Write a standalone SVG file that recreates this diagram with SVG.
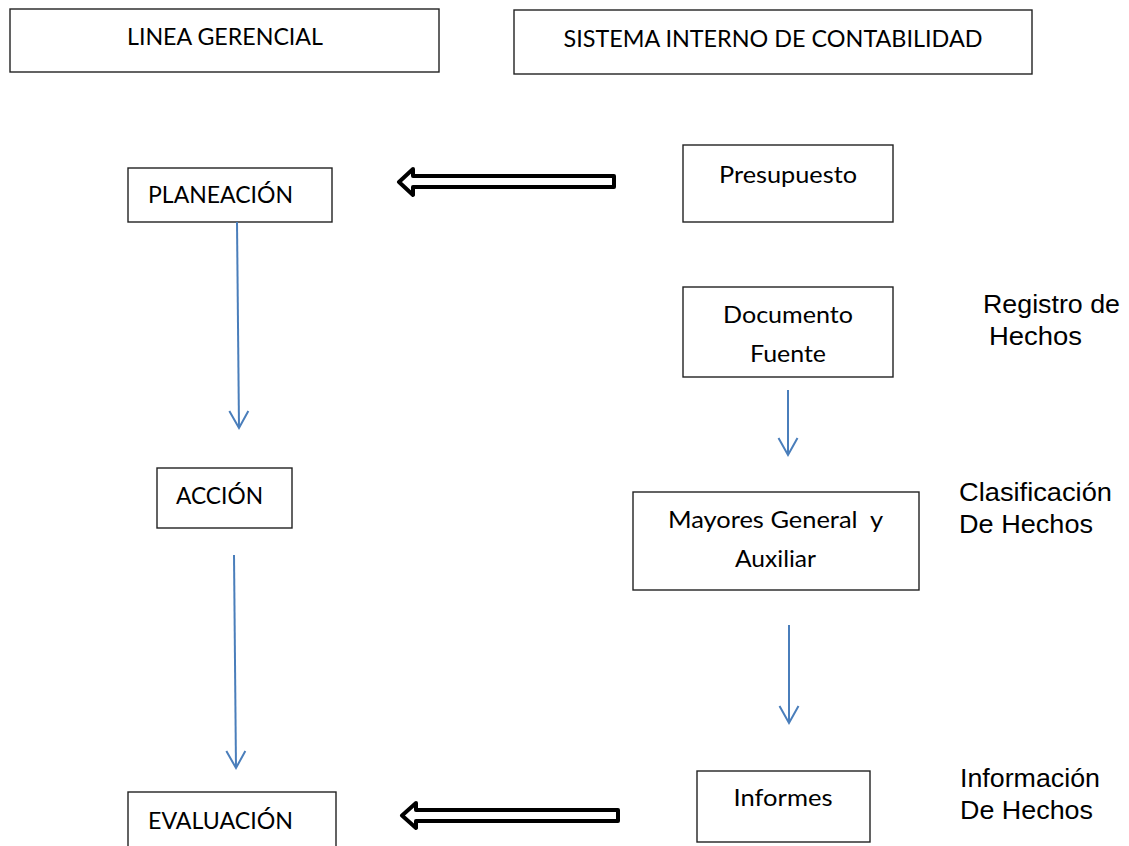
<svg xmlns="http://www.w3.org/2000/svg" width="1129" height="846" viewBox="0 0 1129 846">
<style>
.box{fill:#fff;stroke:#222;stroke-width:1.4}
.t{font-family:Lato,"Open Sans","Liberation Sans",sans-serif;font-size:24px;fill:#000;text-anchor:middle}
.a{font-family:"Liberation Sans",Arial,sans-serif;font-size:26.67px;fill:#000}
.flow{stroke:#4A7EBB;stroke-width:2;fill:none}
.big{fill:#fff;stroke:#000;stroke-width:4;stroke-linejoin:round}
</style>
<defs>
<marker id="vh" markerUnits="userSpaceOnUse" markerWidth="40" markerHeight="40" viewBox="-20 -20 40 40" refX="0" refY="0" orient="auto" overflow="visible">
<path d="M-17,-9.5 L0,0 L-17,9.5" fill="none" stroke="#4A7EBB" stroke-width="2"/>
</marker>
</defs>
<rect width="1129" height="846" fill="#fff"/>
<g id="linea-gerencial"><rect class="box" x="10" y="9" width="429" height="63"/><text class="t" x="225" y="45" textLength="196" lengthAdjust="spacingAndGlyphs">LINEA GERENCIAL</text></g>
<g id="sistema"><rect class="box" x="514" y="10" width="518" height="64"/><text class="t" x="773" y="47" textLength="419" lengthAdjust="spacingAndGlyphs">SISTEMA INTERNO DE CONTABILIDAD</text></g>
<g id="planeacion"><rect class="box" x="128" y="168" width="204" height="54"/><text class="t" x="220.5" y="203" textLength="145" lengthAdjust="spacingAndGlyphs">PLANEACIÓN</text></g>
<g id="presupuesto"><rect class="box" x="683" y="145" width="210" height="77"/><text class="t" x="788" y="183" textLength="138" lengthAdjust="spacingAndGlyphs">Presupuesto</text></g>
<g id="documento"><rect class="box" x="683" y="287" width="210" height="90"/><text class="t" x="788" y="323" textLength="130" lengthAdjust="spacingAndGlyphs">Documento</text><text class="t" x="788" y="362" textLength="76" lengthAdjust="spacingAndGlyphs">Fuente</text></g>
<g id="registro"><text class="a" x="983" y="313" textLength="137" lengthAdjust="spacingAndGlyphs">Registro de</text><text class="a" x="989" y="345" textLength="93" lengthAdjust="spacingAndGlyphs">Hechos</text></g>
<g id="accion"><rect class="box" x="157" y="468" width="135" height="60"/><text class="t" x="219.5" y="504" textLength="87" lengthAdjust="spacingAndGlyphs">ACCIÓN</text></g>
<g id="mayores"><rect class="box" x="633" y="492" width="286" height="98"/><text class="t" x="775.5" y="528" textLength="215" lengthAdjust="spacingAndGlyphs">Mayores General&#160; y</text><text class="t" x="775.5" y="567" textLength="81" lengthAdjust="spacingAndGlyphs">Auxiliar</text></g>
<g id="clasificacion"><text class="a" x="959" y="501" textLength="153" lengthAdjust="spacingAndGlyphs">Clasificación</text><text class="a" x="959" y="533" textLength="134" lengthAdjust="spacingAndGlyphs">De Hechos</text></g>
<g id="informes"><rect class="box" x="697" y="771" width="173" height="71"/><text class="t" x="783" y="806" textLength="99" lengthAdjust="spacingAndGlyphs">Informes</text></g>
<g id="informacion"><text class="a" x="960" y="787" textLength="140" lengthAdjust="spacingAndGlyphs">Información</text><text class="a" x="960" y="819" textLength="133" lengthAdjust="spacingAndGlyphs">De Hechos</text></g>
<g id="evaluacion"><rect class="box" x="128" y="792" width="208" height="70"/><text class="t" x="220.5" y="829" textLength="145" lengthAdjust="spacingAndGlyphs">EVALUACIÓN</text></g>
<g id="connectors">
<polygon class="big" points="614,176 413,176 413,169 399,182 413,195 413,187 614,187"/>
<polygon class="big" points="618,810 416,810 416,803 402,815.5 416,828 416,821 618,821"/>
<line class="flow" x1="237" y1="222" x2="239" y2="428" marker-end="url(#vh)"/>
<line class="flow" x1="234" y1="555" x2="236" y2="768" marker-end="url(#vh)"/>
<line class="flow" x1="788" y1="390" x2="788" y2="455" marker-end="url(#vh)"/>
<line class="flow" x1="789" y1="625" x2="789" y2="723" marker-end="url(#vh)"/>
</g>
</svg>
